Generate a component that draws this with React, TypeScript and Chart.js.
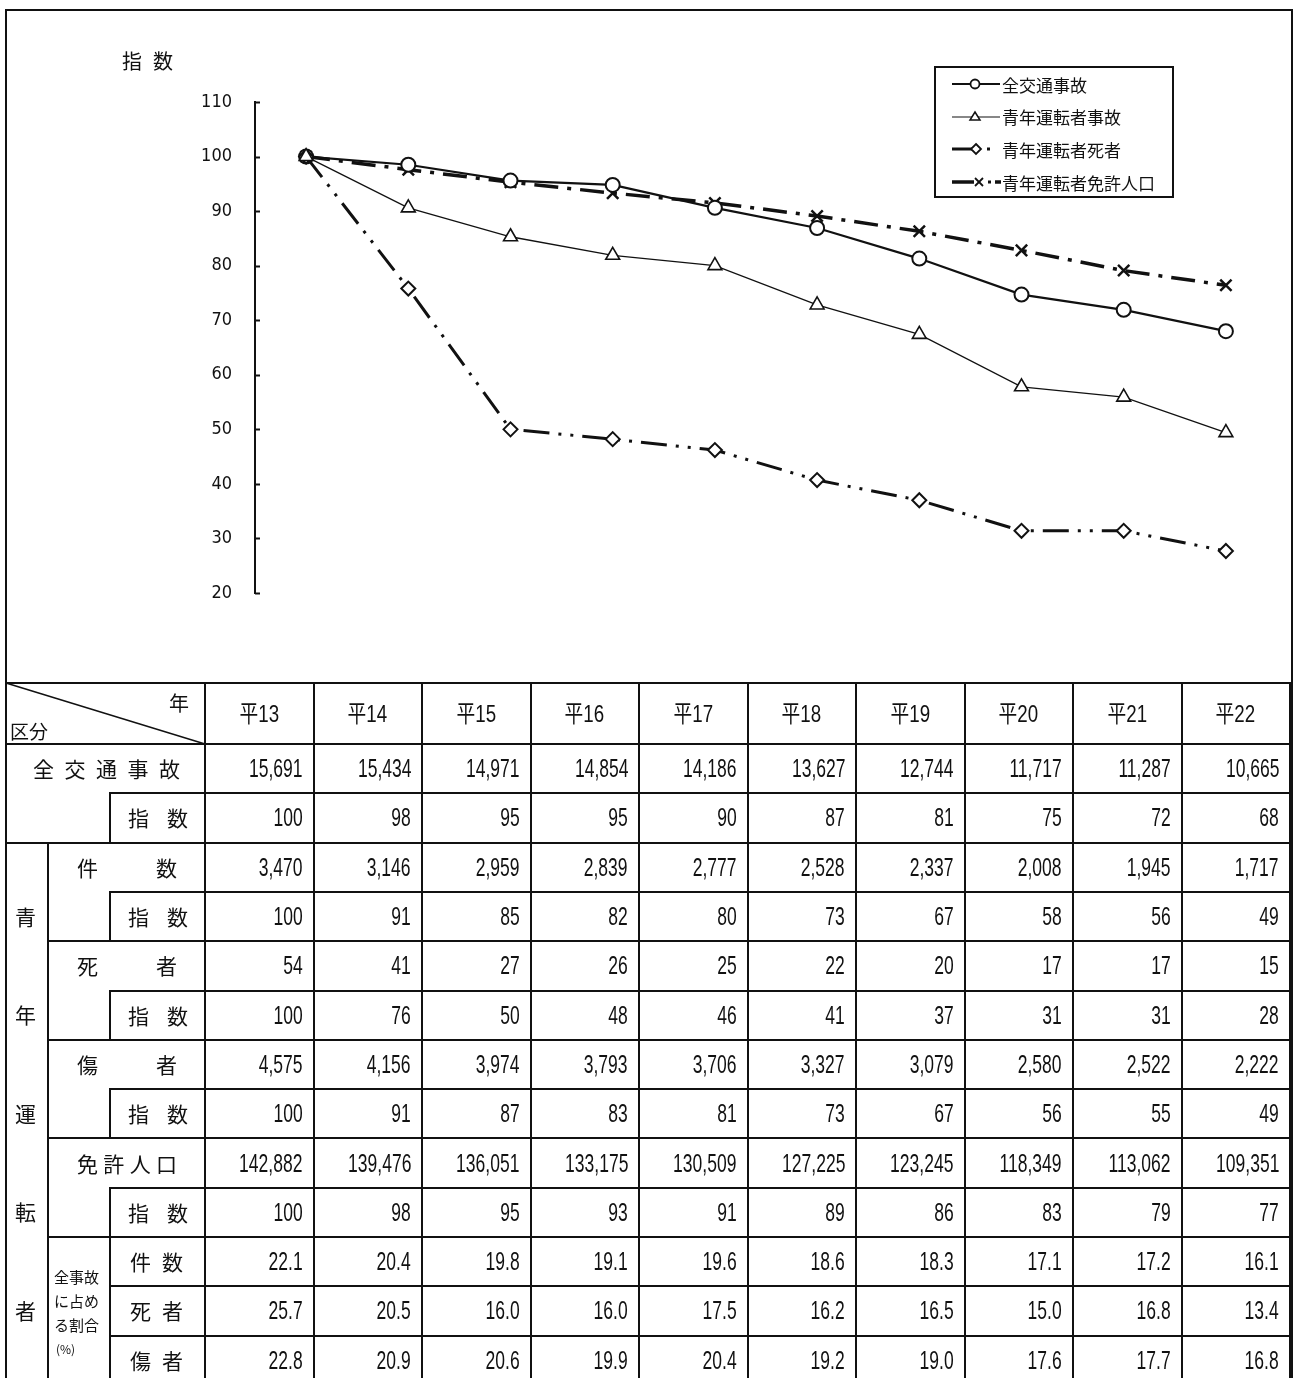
import React, { useEffect, useRef } from 'react';
import { Chart, registerables } from 'chart.js';
Chart.register(...registerables);

// ---------- data ----------
const years = ['平13', '平14', '平15', '平16', '平17', '平18', '平19', '平20', '平21', '平22'];
const yTicks = [20, 30, 40, 50, 60, 70, 80, 90, 100, 110];

// chart series (index)
const seriesAll = [100, 98.5, 95.6, 94.8, 90.6, 86.9, 81.3, 74.7, 71.9, 68.0];
const seriesYoungAcc = [100, 90.6, 85.3, 81.9, 80.0, 72.8, 67.4, 57.8, 55.9, 49.4];
const seriesYoungDeaths = [100, 75.8, 50.0, 48.2, 46.2, 40.7, 37.0, 31.4, 31.4, 27.7];
const seriesLicense = [100, 97.6, 95.3, 93.3, 91.5, 89.1, 86.3, 82.8, 79.1, 76.4];

const legendLabels = ['全交通事故', '青年運転者事故', '青年運転者死者', '青年運転者免許人口'];

// table values
const allAccidents = [15691, 15434, 14971, 14854, 14186, 13627, 12744, 11717, 11287, 10665];
const allAccidentsIdx = [100, 98, 95, 95, 90, 87, 81, 75, 72, 68];
const youngAccidents = [3470, 3146, 2959, 2839, 2777, 2528, 2337, 2008, 1945, 1717];
const youngAccidentsIdx = [100, 91, 85, 82, 80, 73, 67, 58, 56, 49];
const youngDeaths = [54, 41, 27, 26, 25, 22, 20, 17, 17, 15];
const youngDeathsIdx = [100, 76, 50, 48, 46, 41, 37, 31, 31, 28];
const youngInjured = [4575, 4156, 3974, 3793, 3706, 3327, 3079, 2580, 2522, 2222];
const youngInjuredIdx = [100, 91, 87, 83, 81, 73, 67, 56, 55, 49];
const licensePop = [142882, 139476, 136051, 133175, 130509, 127225, 123245, 118349, 113062, 109351];
const licensePopIdx = [100, 98, 95, 93, 91, 89, 86, 83, 79, 77];
const shareAccidents = [22.1, 20.4, 19.8, 19.1, 19.6, 18.6, 18.3, 17.1, 17.2, 16.1];
const shareDeaths = [25.7, 20.5, 16.0, 16.0, 17.5, 16.2, 16.5, 15.0, 16.8, 13.4];
const shareInjured = [22.8, 20.9, 20.6, 19.9, 20.4, 19.2, 19.0, 17.6, 17.7, 16.8];

// ---------- layout ----------
const CJK = '"Noto Sans CJK JP", "Noto Sans CJK SC", sans-serif';
const NUM = '"Liberation Sans", Arial, sans-serif';
const TICKFONT = '"DejaVu Sans Condensed", "Liberation Sans", sans-serif';
const L = 6, XA = 48, XB = 110, XC = 205, CW = 108.5, RIGHT = 1290;
const HT = 683, HB = 744, RH = 49.3, BOTTOM = 1400;
const rowTop = (i: number) => HB + i * RH;

function HLine({ x1, x2, y, w = 2 }: { x1: number; x2: number; y: number; w?: number }) {
  return <div style={{ position: 'absolute', left: x1 - 1, top: Math.round(y - w / 2), width: x2 - x1 + 2, height: w, background: '#111' }} />;
}
function VLine({ x, y1, y2, w = 2 }: { x: number; y1: number; y2: number; w?: number }) {
  return <div style={{ position: 'absolute', left: Math.round(x - w / 2), top: y1 - 1, width: w, height: y2 - y1 + 2, background: '#111' }} />;
}

function Spread({ text, x1, x2, yc, size = 21 }: { text: string; x1: number; x2: number; yc: number; size?: number }) {
  return (
    <div style={{ position: 'absolute', left: x1, width: x2 - x1, top: yc - size * 0.75, height: size * 1.5, display: 'flex', justifyContent: 'space-between', alignItems: 'center', fontFamily: CJK, fontSize: size, color: '#111', lineHeight: 1 }}>
      {Array.from(text).map((ch, i) => <span key={i}>{ch}</span>)}
    </div>
  );
}

function Num({ text, right, top, h }: { text: string; right: number; top: number; h: number }) {
  return (
    <div style={{ position: 'absolute', left: right - 120, width: 120, top, height: h, display: 'flex', justifyContent: 'flex-end', alignItems: 'center' }}>
      <span style={{ display: 'inline-block', fontFamily: NUM, fontSize: 25, color: '#111', transform: 'scaleX(0.7)', transformOrigin: 'right center', lineHeight: 1, whiteSpace: 'nowrap' }}>{text}</span>
    </div>
  );
}

function LegendSample({ kind }: { kind: number }) {
  const c = '#111';
  if (kind === 0) return (
    <svg width={50} height={20}><line x1={0} y1={10} x2={48} y2={10} stroke={c} strokeWidth={2} /><circle cx={23} cy={10} r={4.5} fill="#fff" stroke={c} strokeWidth={1.8} /></svg>
  );
  if (kind === 1) return (
    <svg width={50} height={20}><line x1={0} y1={10} x2={48} y2={10} stroke={c} strokeWidth={1.2} /><polygon points="23,5 28,13 18,13" fill="#fff" stroke={c} strokeWidth={1.5} /></svg>
  );
  if (kind === 2) return (
    <svg width={50} height={20}><line x1={0} y1={10} x2={20} y2={10} stroke={c} strokeWidth={3} /><polygon points="24,5 29,10 24,15 19,10" fill="#fff" stroke={c} strokeWidth={1.8} /><line x1={35} y1={10} x2={38} y2={10} stroke={c} strokeWidth={3} /></svg>
  );
  return (
    <svg width={50} height={20}><line x1={0} y1={10} x2={22} y2={10} stroke={c} strokeWidth={3.5} /><line x1={23} y1={6} x2={31} y2={14} stroke={c} strokeWidth={1.8} /><line x1={31} y1={6} x2={23} y2={14} stroke={c} strokeWidth={1.8} /><line x1={36} y1={10} x2={39} y2={10} stroke={c} strokeWidth={3} /><line x1={43} y1={10} x2={49} y2={10} stroke={c} strokeWidth={3.5} /></svg>
  );
}

export default function App() {
  const ref = useRef<HTMLCanvasElement>(null);

  useEffect(() => {
    const inwardTicks = {
      id: 'inwardTicks',
      afterDraw(chart: any) {
        const y = chart.scales.y;
        const ctx = chart.ctx;
        ctx.save();
        ctx.strokeStyle = '#111';
        ctx.lineWidth = 2;
        y.ticks.forEach((t: any) => {
          const py = Math.round(y.getPixelForValue(t.value)) + 0.5;
          ctx.beginPath();
          ctx.moveTo(chart.chartArea.left, py);
          ctx.lineTo(chart.chartArea.left + 5, py);
          ctx.stroke();
        });
        ctx.restore();
      },
    };
    const pts = (arr: number[]) => arr.map((v, i) => ({ x: i, y: v }));
    const chart = new Chart(ref.current as HTMLCanvasElement, {
      type: 'line',
      data: {
        datasets: [
          { label: legendLabels[1], data: pts(seriesYoungAcc), borderColor: '#111', borderWidth: 1.3, pointStyle: 'triangle', pointRadius: 8, pointBorderWidth: 1.6, pointBackgroundColor: '#fff', pointBorderColor: '#111', tension: 0 },
          { label: legendLabels[2], data: pts(seriesYoungDeaths), borderColor: '#111', borderWidth: 3, borderDash: [26, 9, 3, 9, 3, 9], pointStyle: 'rectRot', pointRadius: 7, pointBorderWidth: 2, pointBackgroundColor: '#fff', pointBorderColor: '#111', tension: 0 },
          { label: legendLabels[0], data: pts(seriesAll), borderColor: '#111', borderWidth: 2.2, pointStyle: 'circle', pointRadius: 7, pointBorderWidth: 2, pointBackgroundColor: '#fff', pointBorderColor: '#111', tension: 0 },
          { label: legendLabels[3], data: pts(seriesLicense), borderColor: '#111', borderWidth: 3.5, borderDash: [24, 9, 4, 9], pointStyle: 'crossRot', pointRadius: 8, pointBorderWidth: 2.5, pointBackgroundColor: '#fff', pointBorderColor: '#111', tension: 0 },
        ],
      },
      options: {
        responsive: false,
        animation: false,
        devicePixelRatio: 1,
        layout: { padding: { left: 0, top: 102, right: 16, bottom: 90 } },
        plugins: { legend: { display: false }, tooltip: { enabled: false } },
        scales: {
          x: { type: 'linear', min: -0.5, max: 9.5, display: false },
          y: {
            min: 20, max: 110,
            afterBuildTicks: (s: any) => { s.ticks = yTicks.map((v) => ({ value: v })); },
            afterFit: (s: any) => { s.width = 255; },
            ticks: { color: '#111', padding: 23, font: { family: TICKFONT, size: 18 } },
            grid: { display: true, drawOnChartArea: false, drawTicks: false },
            border: { display: true, color: '#111', width: 2 },
          },
        },
      },
      plugins: [inwardTicks],
    } as any);
    return () => chart.destroy();
  }, []);

  const tableRows = [allAccidents, allAccidentsIdx, youngAccidents, youngAccidentsIdx, youngDeaths, youngDeathsIdx, youngInjured, youngInjuredIdx, licensePop, licensePopIdx, shareAccidents, shareDeaths, shareInjured];
  const fmt = (v: number, r: number) => (r >= 10 ? v.toFixed(1) : v.toLocaleString('en-US'));

  const hStarts = [XB, L, XB, XA, XB, XA, XB, XA, XB, XA, XB, XB];
  const lines: React.ReactNode[] = [];
  lines.push(<HLine key="ht" x1={L} x2={RIGHT} y={HT} />);
  lines.push(<HLine key="hb" x1={L} x2={RIGHT} y={HB} />);
  hStarts.forEach((x, k) => lines.push(<HLine key={'h' + k} x1={x} x2={RIGHT} y={rowTop(k + 1)} />));
  lines.push(<VLine key="vl" x={L} y1={HT} y2={BOTTOM} />);
  lines.push(<VLine key="vc" x={XC} y1={HT} y2={BOTTOM} />);
  for (let k = 1; k <= 9; k++) lines.push(<VLine key={'vd' + k} x={XC + k * CW} y1={HT} y2={BOTTOM} />);
  lines.push(<VLine key="vr" x={RIGHT} y1={HT} y2={BOTTOM} />);
  lines.push(<VLine key="va" x={XA} y1={rowTop(2)} y2={BOTTOM} />);
  [[1, 2], [3, 4], [5, 6], [7, 8], [9, 10], [10, 14]].forEach(([a, b], k) =>
    lines.push(<VLine key={'vb' + k} x={XB} y1={rowTop(a)} y2={Math.min(rowTop(b), BOTTOM)} />));

  const rc = (i: number) => rowTop(i) + RH / 2;

  return (
    <div style={{ position: 'absolute', left: 0, top: 0, width: 1293, height: 1378, overflow: 'hidden', background: '#fff' }}>
      {/* outer frame */}
      <div style={{ position: 'absolute', left: 5, top: 9, width: RIGHT - 5 - 1, height: BOTTOM, borderLeft: '2px solid #111', borderTop: '2px solid #111', borderRight: '2px solid #111' }} />
      <canvas ref={ref} width={1293} height={683} style={{ position: 'absolute', left: 0, top: 0, width: 1293, height: 683 }} />
      {/* y axis title */}
      <Spread text="指数" x1={122} x2={173} yc={61} size={20} />
      {/* legend */}
      <div style={{ position: 'absolute', left: 934, top: 66, width: 236, height: 128, border: '2px solid #111' }}>
        {legendLabels.map((lab, k) => (
          <div key={k} style={{ position: 'absolute', left: 16, top: 6 + k * 32.7, height: 20, display: 'flex', alignItems: 'center' }}>
            <LegendSample kind={k} />
            <span style={{ fontFamily: CJK, fontSize: 17, color: '#111', marginLeft: 0, lineHeight: 1 }}>{lab}</span>
          </div>
        ))}
      </div>

      {/* table */}
      {lines}
      <svg style={{ position: 'absolute', left: 0, top: 0 }} width={1293} height={1378}>
        <line x1={L} y1={HT} x2={XC} y2={HB} stroke="#111" strokeWidth={1.5} />
      </svg>
      <div style={{ position: 'absolute', left: 169, top: 693, fontFamily: CJK, fontSize: 20, color: '#111', lineHeight: 1 }}>年</div>
      <div style={{ position: 'absolute', left: 10, top: 721, fontFamily: CJK, fontSize: 19, color: '#111', lineHeight: 1 }}>区分</div>
      {years.map((y, k) => (
        <div key={y} style={{ position: 'absolute', left: XC + k * CW, width: CW, top: HT, height: HB - HT, display: 'flex', justifyContent: 'center', alignItems: 'center' }}>
          <span style={{ display: 'inline-block', fontFamily: `${NUM.split(',')[0]}, ${CJK}`, fontSize: 24, color: '#111', transform: 'scaleX(0.78)', lineHeight: 1 }}>{y}</span>
        </div>
      ))}

      {/* row labels */}
      <Spread text="全交通事故" x1={33} x2={180} yc={rc(0)} size={21} />
      {[1, 3, 5, 7, 9].map((i) => <Spread key={'idx' + i} text="指数" x1={128} x2={188} yc={rc(i)} size={21} />)}
      <Spread text="件数" x1={77} x2={177} yc={rc(2)} size={21} />
      <Spread text="死者" x1={77} x2={177} yc={rc(4)} size={21} />
      <Spread text="傷者" x1={77} x2={177} yc={rc(6)} size={21} />
      <Spread text="免許人口" x1={77} x2={177} yc={rc(8)} size={21} />
      <Spread text="件数" x1={130} x2={183} yc={rc(10)} size={21} />
      <Spread text="死者" x1={130} x2={183} yc={rc(11)} size={21} />
      <Spread text="傷者" x1={130} x2={183} yc={rc(12)} size={21} />
      {Array.from('青年運転者').map((ch, k) => (
        <div key={'v' + ch} style={{ position: 'absolute', left: 15, top: rc(3 + 2 * k) - 11, fontFamily: CJK, fontSize: 21, color: '#111', lineHeight: 1 }}>{ch}</div>
      ))}
      <div style={{ position: 'absolute', left: 54, top: 1265, fontFamily: CJK, fontSize: 15, lineHeight: '24px', color: '#111' }}>
        <div>全事故</div><div>に占め</div><div>る割合</div><div style={{ fontSize: 12, paddingLeft: 2 }}>(%)</div>
      </div>

      {/* values */}
      {tableRows.map((row, r) => row.map((v, k) => (
        <Num key={r + '-' + k} text={fmt(v, r)} right={XC + (k + 1) * CW - 11} top={rowTop(r)} h={RH} />
      )))}
    </div>
  );
}
